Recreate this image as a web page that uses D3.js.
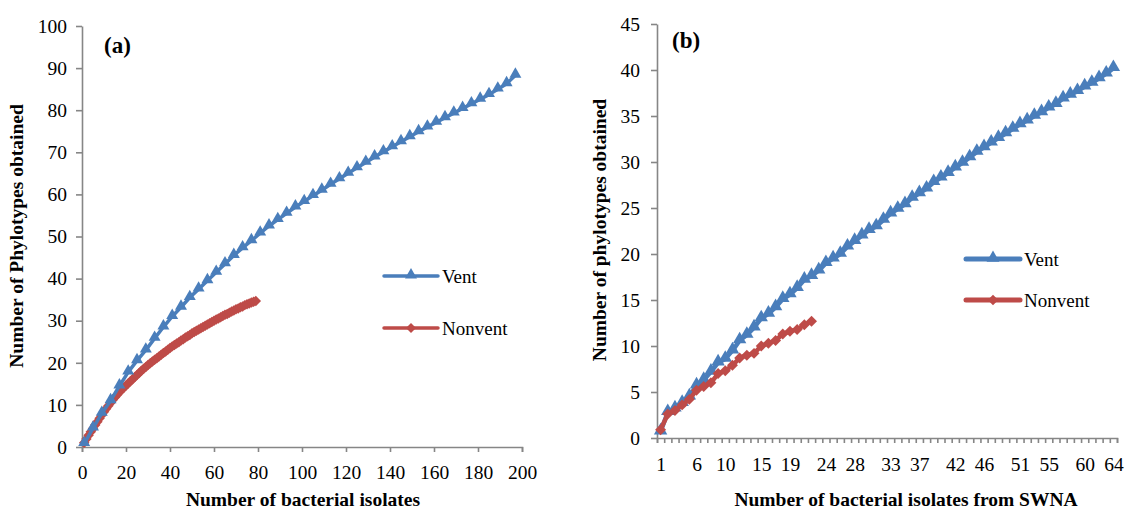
<!DOCTYPE html>
<meta charset="utf-8">
<head>
<style>
 body { margin: 0; background: #fff; }
 text { font-family: "Liberation Serif", "Times New Roman", serif; fill: #000; }
 .axis path, .axis line { stroke: #868686; stroke-width: 1.6px; }
 .axis text { font-size: 19.5px; font-family: "Liberation Serif", "Times New Roman", serif; }
 .title { font-size: 19.5px; font-weight: bold; }
 .panel { font-size: 23px; font-weight: bold; }
 .legend text { font-size: 19px; }
</style>
</head>
<body>
<svg width="1126" height="510"></svg>
<script src="https://d3js.org/d3.v7.min.js"></script>
<script>
  // panel (a): cumulative phylotypes vs isolates
  var ventAX = [1, 5, 9, 13, 17, 21, 25, 29, 33, 37, 41, 45, 49, 53, 57, 61, 65, 69, 73, 77,
                81, 85, 89, 93, 97, 101, 105, 109, 113, 117, 121, 125, 129, 133, 137, 141, 145, 149, 153, 157,
                161, 165, 169, 173, 177, 181, 185, 189, 193, 197];
  var ventAY = [0.8, 4.5, 8, 11, 14.5, 17.8, 20.5, 23, 25.8, 28.5, 31, 33.2, 35.5, 37.5, 39.5, 41.5, 43.5, 45.5, 47.3, 49,
                50.8, 52.5, 54, 55.5, 57, 58.3, 59.7, 61, 62.4, 63.7, 65, 66.3, 67.6, 68.9, 70.1, 71.3, 72.5, 73.7, 74.9, 76,
                77.1, 78.2, 79.3, 80.4, 81.5, 82.6, 83.7, 85, 86.3, 88.3];
  var nonventAY = [1.0, 1.9, 2.8, 3.6, 4.4, 5.2, 6.0, 6.8, 7.6, 8.4, 9.1, 9.8, 10.5, 11.2, 11.8, 12.4, 13.0, 13.6, 14.1, 14.6,
                   15.1, 15.6, 16.1, 16.6, 17.1, 17.6, 18.1, 18.6, 19.0, 19.5, 19.9, 20.3, 20.7, 21.1, 21.5, 21.9, 22.3, 22.7, 23.1, 23.5,
                   23.9, 24.2, 24.6, 24.9, 25.3, 25.6, 26.0, 26.3, 26.6, 27.0, 27.3, 27.6, 27.9, 28.2, 28.5, 28.8, 29.1, 29.4, 29.7, 30.0,
                   30.3, 30.5, 30.8, 31.1, 31.4, 31.6, 31.9, 32.2, 32.4, 32.7, 32.9, 33.2, 33.4, 33.7, 33.9, 34.1, 34.3, 34.5, 34.7];
  var xTicksA = [0, 20, 40, 60, 80, 100, 120, 140, 160, 180, 200];
  var yTicksA = [0, 10, 20, 30, 40, 50, 60, 70, 80, 90, 100];

  // panel (b): SWNA isolates (category axis 1..64)
  var ventB = [0.7, 2.8, 3.2, 3.8, 4.5, 5.7, 6.3, 7.2, 8.2, 8.6, 9.5, 10.6, 11.2, 12.0, 13.0, 13.5, 14.2, 15.1, 15.6, 16.3,
               17.2, 17.6, 18.2, 19.0, 19.5, 20.0, 20.8, 21.4, 22.0, 22.6, 23.0, 23.7, 24.4, 24.9, 25.4, 26.1, 26.6, 27.1, 27.8, 28.3,
               28.8, 29.4, 29.9, 30.5, 31.1, 31.6, 32.1, 32.6, 33.1, 33.6, 34.1, 34.5, 35.0, 35.4, 35.9, 36.3, 36.9, 37.3, 37.7, 38.2,
               38.6, 39.1, 39.6, 40.2];
  var nonventB = [0.9, 2.6, 3.0, 3.6, 4.2, 5.2, 5.6, 6.0, 7.0, 7.3, 7.9, 8.7, 9.0, 9.2, 10.0, 10.3, 10.6, 11.3, 11.6, 11.8,
                  12.3, 12.7];
  var xLabelsB = [1, 6, 10, 15, 19, 24, 28, 33, 37, 42, 46, 51, 55, 60, 64];
  var yTicksB = [0, 5, 10, 15, 20, 25, 30, 35, 40, 45];

  var blue = '#4a7ebb', red = '#be4b48';
  var svg = d3.select('svg');

  var tri = d3.symbol().type(d3.symbolTriangle);
  var dia = d3.symbol().type(d3.symbolSquare);

  function series(g, pts, color, kind, lw, msize) {
    g.append('path')
      .datum(pts)
      .attr('fill', 'none')
      .attr('stroke', color)
      .attr('stroke-width', lw)
      .attr('stroke-linejoin', 'round')
      .attr('d', d3.line().x(function(d) { return d[0]; }).y(function(d) { return d[1]; }));
    g.selectAll(null).data(pts).enter().append('path')
      .attr('fill', color)
      .attr('transform', function(d) {
        return 'translate(' + d[0] + ',' + (kind === 'tri' ? d[1] - 1 : d[1]) + ')' + (kind === 'dia' ? ' rotate(45)' : '');
      })
      .attr('d', (kind === 'tri' ? tri : dia).size(msize));
  }

  function legend(x, y1, y2, lw, tsize, dsize) {
    var g = svg.append('g').attr('class', 'legend');
    [[y1, blue, 'tri', 'Vent', tsize], [y2, red, 'dia', 'Nonvent', dsize]].forEach(function(r) {
      g.append('line').attr('x1', x).attr('x2', x + 54).attr('y1', r[0]).attr('y2', r[0])
        .attr('stroke', r[1]).attr('stroke-width', lw).attr('stroke-linecap', 'round');
      series(g, [[x + 27, r[0]]], r[1], r[2], lw, r[4]);
      g.append('text').attr('x', x + 58).attr('y', r[0] + 7).text(r[3]);
    });
  }

  // ---- panel (a)
  var xa = d3.scaleLinear().domain([0, 200]).range([82, 522]);
  var ya = d3.scaleLinear().domain([0, 100]).range([447, 26]);

  svg.append('g').attr('class', 'axis').attr('transform', 'translate(0,447)')
    .call(d3.axisBottom(xa).tickValues(xTicksA).tickSize(5).tickPadding(13).tickSizeOuter(5));
  svg.append('g').attr('class', 'axis').attr('transform', 'translate(82,0)')
    .call(d3.axisLeft(ya).tickValues(yTicksA).tickSize(6).tickPadding(9).tickSizeOuter(0));

  var ga = svg.append('g');
  series(ga, nonventAY.map(function(v, i) { return [xa(i + 1), ya(v)]; }), red, 'dia', 3.5, 55);
  series(ga, ventAX.map(function(v, i) { return [xa(v), ya(ventAY[i])]; }), blue, 'tri', 3.5, 62);

  svg.append('text').attr('class', 'panel').attr('x', 104).attr('y', 53).text('(a)');
  svg.append('text').attr('class', 'title').attr('x', 303).attr('y', 506).attr('text-anchor', 'middle')
    .text('Number of bacterial isolates');
  svg.append('text').attr('class', 'title').attr('text-anchor', 'middle')
    .attr('transform', 'translate(23,236) rotate(-90)').text('Number of Phylotypes obtained');
  legend(384, 276, 328, 3.5, 62, 50);

  // ---- panel (b)
  var xb = d3.scaleLinear().domain([0.5, 64.5]).range([657, 1117]);
  var yb = d3.scaleLinear().domain([0, 45]).range([438, 24]);

  var bTicks = d3.range(0, 65).map(function(i) { return i + 0.5; });
  svg.append('g').attr('class', 'axis').attr('transform', 'translate(0,438)')
    .call(d3.axisBottom(xb).tickValues(bTicks).tickSize(5).tickFormat('').tickSizeOuter(5));
  svg.append('g').attr('class', 'axis').attr('transform', 'translate(0,438)')
    .call(d3.axisBottom(xb).tickValues(xLabelsB).tickSize(0).tickPadding(19).tickFormat(d3.format('d')))
    .select('.domain').remove();
  svg.append('g').attr('class', 'axis').attr('transform', 'translate(657,0)')
    .call(d3.axisLeft(yb).tickValues(yTicksB).tickSize(6).tickPadding(11).tickSizeOuter(0));

  var gb = svg.append('g');
  series(gb, ventB.map(function(v, i) { return [xb(i + 1), yb(v)]; }), blue, 'tri', 4.5, 78);
  series(gb, nonventB.map(function(v, i) { return [xb(i + 1), yb(v)]; }), red, 'dia', 4.5, 60);

  svg.append('text').attr('class', 'panel').attr('x', 672).attr('y', 48).text('(b)');
  svg.append('text').attr('class', 'title').attr('x', 906).attr('y', 506).attr('text-anchor', 'middle')
    .text('Number of bacterial isolates from SWNA');
  svg.append('text').attr('class', 'title').attr('text-anchor', 'middle')
    .attr('transform', 'translate(606,230) rotate(-90)').text('Number of phylotypes obtained');
  legend(966, 259, 300, 5, 72, 56);
</script>
</body>
</html>
